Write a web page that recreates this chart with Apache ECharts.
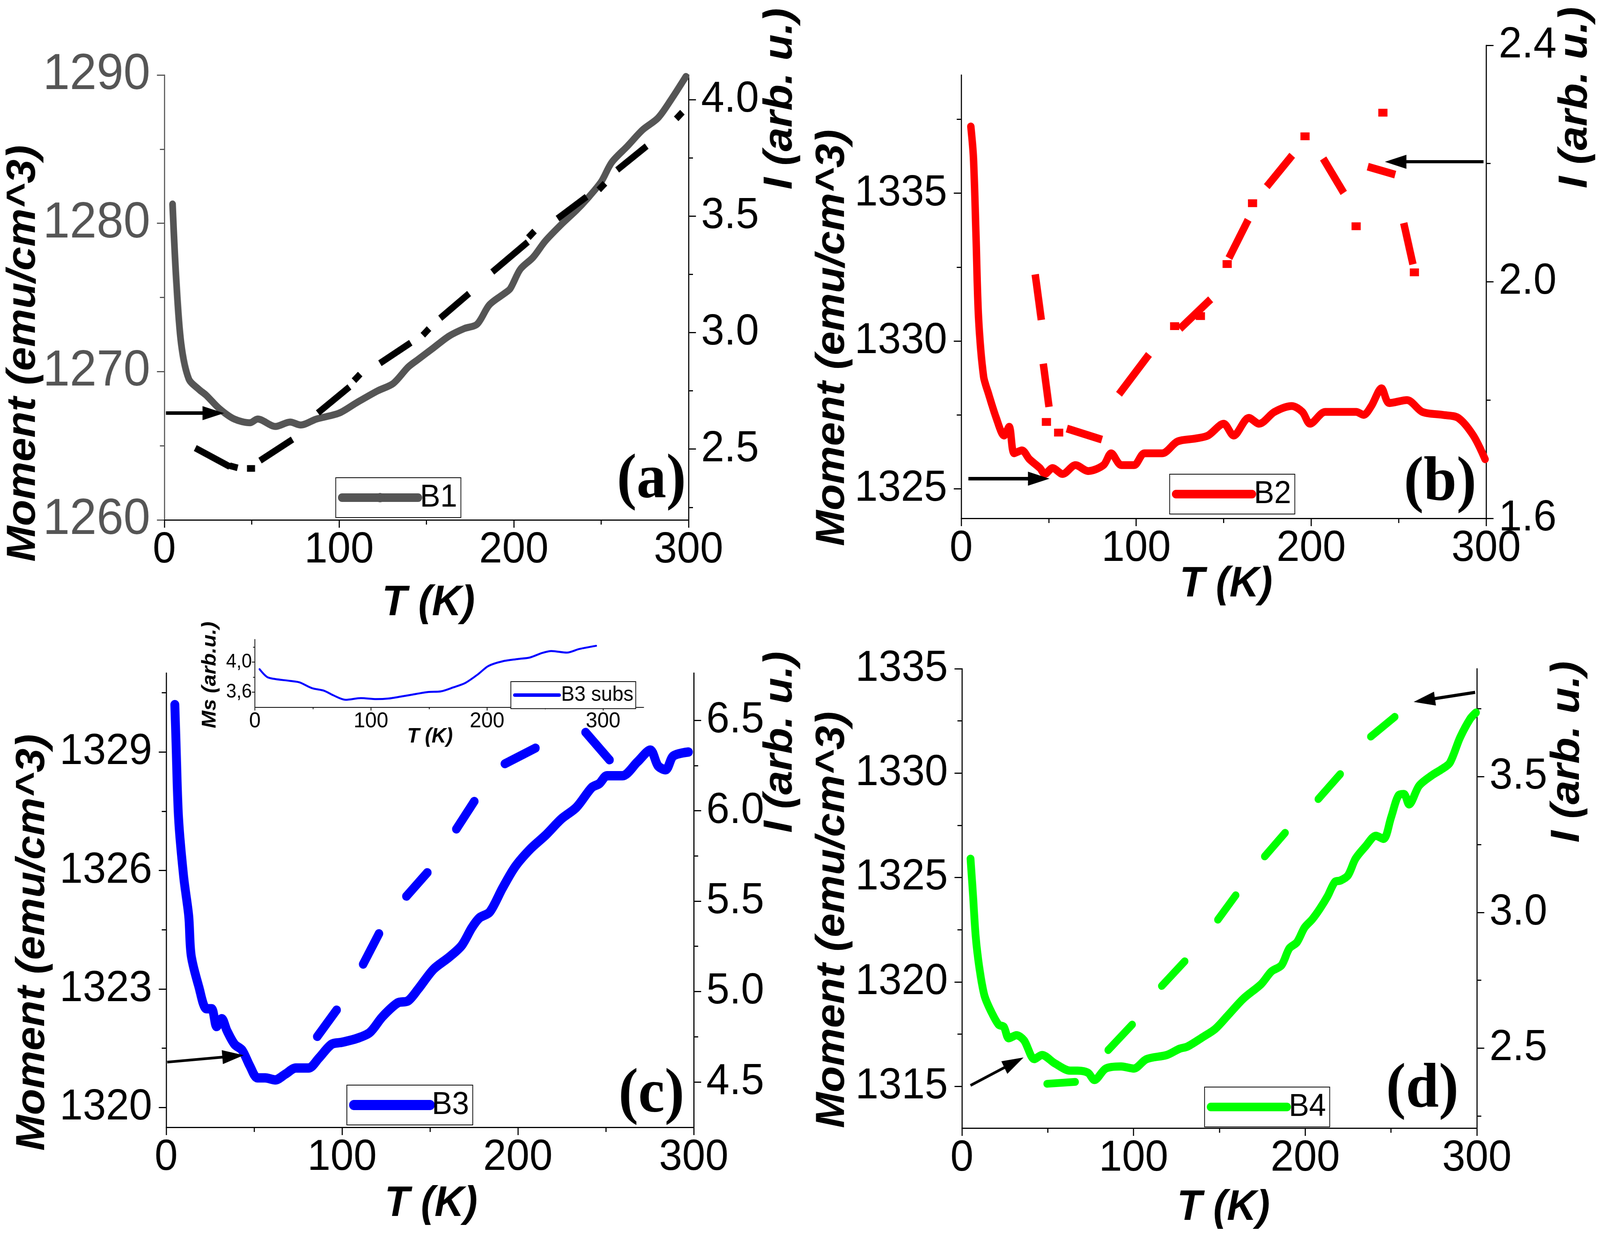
<!DOCTYPE html>
<html>
<head>
<meta charset="utf-8">
<script src="https://cdn.jsdelivr.net/npm/echarts@6/dist/echarts.min.js"></script>
<style>
html, body { margin: 0; padding: 0; background: #fff; overflow: hidden; }
#chart { width: 4313px; height: 3172px; transform-origin: 0 0; }
</style>
</head>
<body>
<div id="chart"></div>
<script>
// ---- data ----
// (a) B1
const tA = [4.7,6.7,9.6,14,19.8,24,31.5,40,49,53.4,63.6,72,78,87,100,110,122,131,139.5,145,154,163,171.6,179,186,195,198,203.7,211,218,227,236,241.6,250,256,265,273.7,282.5,289.8,298.5];
const mA = [1281.3,1276.4,1271.9,1269.5,1268.8,1268.4,1267.5,1266.8,1266.55,1266.8,1266.3,1266.6,1266.4,1266.8,1267.2,1267.9,1268.7,1269.2,1270.3,1270.8,1271.6,1272.4,1272.9,1273.2,1274.5,1275.3,1275.6,1276.9,1277.7,1278.8,1279.9,1280.9,1281.6,1282.8,1284.1,1285.2,1286.3,1287.1,1288.3,1289.9];
// intensity, only the visible dash pieces (null = gap)
const tAi = [19.3,35.9,null,39.2,40.2,null,49.1,50.1,null,56.3,71.8,null,89.3,104.5,null,109.8,110.8,null,124.9,139.5,null,149.2,150.2,null,159.3,173,null,189.1,206.6,null,209.6,210.6,null,226.5,240.2,null,249.9,250.9,null,260.6,274.6,null,294.2,295.2];
const iA  = [2.498,2.431,null,2.425,2.423,null,2.417,2.417,null,2.458,2.534,null,2.664,2.758,null,2.804,2.812,null,2.876,2.949,null,2.999,3.007,null,3.071,3.159,null,3.269,3.380,null,3.418,3.426,null,3.498,3.575,null,3.623,3.631,null,3.707,3.792,null,3.928,3.936];

// (b) B2
const tB = [5.5,7,8.5,9.9,12.8,15.7,20,24.5,27.4,30.3,34.7,39,45,47.8,52.2,58,65.3,72.6,81.3,85.7,91.5,98.8,104.7,114.9,123.6,133.9,141,150,155.7,164.4,170.3,179,189,195,199.4,208,217,225.7,230,234.4,240.2,244.6,254.8,263.6,275.2,284,292.7,299.4];
const mB = [1337.26,1336.2,1333.5,1330.8,1328.8,1328.2,1327.4,1326.8,1327.1,1326.2,1326.3,1326.0,1325.7,1325.5,1325.7,1325.5,1325.8,1325.6,1325.8,1326.2,1325.8,1325.8,1326.2,1326.2,1326.6,1326.7,1326.8,1327.2,1326.8,1327.4,1327.2,1327.6,1327.8,1327.6,1327.2,1327.6,1327.6,1327.6,1327.5,1327.8,1328.4,1327.9,1328.0,1327.6,1327.5,1327.4,1326.8,1326.0];
const tBi = [42.6,45.5,null,47.2,49.9,null,48.2,49.2,null,55.2,56.2,null,62.4,78.4,null,91.5,106,null,121.5,122.5,null,126.5,141,null,136.2,137.2,null,151.5,152.5,null,154,163,null,166,167,null,176,187.8,null,196,197,null,208,217.5,null,225.2,226.2,null,240.5,241.5,null,234.4,246,null,253.4,257.7,null,258.5,259.5];
const iB  = [2.006,1.942,null,1.855,1.795,null,1.763,1.763,null,1.745,1.745,null,1.750,1.735,null,1.815,1.872,null,1.925,1.925,null,1.925,1.966,null,1.942,1.942,null,2.030,2.030,null,2.046,2.099,null,2.133,2.133,null,2.166,2.209,null,2.246,2.246,null,2.203,2.156,null,2.094,2.094,null,2.286,2.286,null,2.193,2.183,null,2.093,2.036,null,2.016,2.016];

// (c) B3
const tC = [4.9,5.5,7,9.9,12.8,14.2,18.6,22.9,25.8,28.7,31.6,34.5,38.9,43.2,47.6,51.9,56.3,62,67.9,73.7,81,86.8,94,99.8,108.5,115.8,123,131.7,137.5,143.3,152,160.7,168,173.8,178.1,184,191.2,198.5,207.2,215.9,224.6,233.3,242,246.3,250.7,259.4,268,275.3,279.7,284,288.4,297];
const mC = [1330.2,1329.35,1327.35,1325.85,1324.85,1323.85,1323.05,1322.5,1322.5,1322.05,1322.25,1321.95,1321.6,1321.45,1321.05,1320.75,1320.75,1320.7,1320.85,1321.0,1321.0,1321.25,1321.6,1321.65,1321.75,1321.9,1322.3,1322.65,1322.7,1323.0,1323.5,1323.8,1324.1,1324.55,1324.8,1324.95,1325.55,1326.1,1326.55,1326.9,1327.3,1327.6,1328.1,1328.2,1328.4,1328.4,1328.75,1329.05,1328.65,1328.55,1328.9,1329.0];
const tCi = [85.9,96.9,null,112,121,null,136.6,148.5,null,165,175.2,null,192.6,210,null,238.5,252.1];
const iC  = [4.751,4.898,null,5.151,5.320,null,5.527,5.658,null,5.899,6.052,null,6.260,6.347,null,6.434,6.281];
// (c) inset, B3 subs
const tIn  = [4,10.6,17.2,30.4,38.4,49,59.6,67.5,78.1,91.3,104.6,115.2,125.8,139,149.6,160.2,170.8,181.4,192,201.2,213.1,226.4,237,247.5,255.5,268.7,279.3,293.9];
const msIn = [3.905,3.80,3.775,3.749,3.73,3.654,3.619,3.558,3.498,3.52,3.507,3.515,3.541,3.576,3.602,3.61,3.662,3.723,3.835,3.948,4.009,4.04,4.061,4.121,4.147,4.126,4.173,4.216];

// (d) B4
const tD = [5,6.5,8,10.1,13.1,16.9,21.4,24.4,27.3,31.8,36.2,42.2,46.6,54.1,63,67.4,73.4,77.2,83.8,92.7,100.1,107.5,119.4,126.8,131.3,140.2,147.6,155,164,174.4,180.3,186.2,190.7,195.2,199.6,204.1,208.5,213,217.4,220.4,224.9,229.3,235.2,241.2,245.6,250.1,254.5,257.5,260.5,266.4,273.9,279.8,284.3,290.2,296.1,299.5];
const mD = [1325.9,1324.1,1322.2,1320.7,1319.35,1318.6,1317.95,1317.85,1317.3,1317.45,1317.2,1316.3,1316.5,1316.1,1315.75,1315.75,1315.65,1315.3,1315.85,1315.95,1315.85,1316.3,1316.5,1316.8,1316.9,1317.35,1317.75,1318.4,1319.2,1319.9,1320.5,1320.8,1321.6,1321.9,1322.6,1323.0,1323.5,1324.1,1324.8,1324.85,1325.1,1325.9,1326.5,1327.0,1326.85,1327.9,1328.95,1329.0,1328.5,1329.4,1329.9,1330.2,1330.5,1331.7,1332.6,1332.9];
const tDi = [49.6,66,null,85.2,99.2,null,116.4,129.8,null,149.1,159.5,null,176.4,188.3,null,207.6,220.4,null,238.2,252.2];
const iD  = [2.369,2.376,null,2.493,2.587,null,2.729,2.820,null,2.973,3.063,null,3.206,3.293,null,3.417,3.509,null,3.647,3.720];

// arrows: [from, to] in (T, value) of the axis they point at
const arrowsMomA = [[[0.9,1267.2],[28,1267.2]]];
const arrowsIntA = [[[301.5,2.554],[95.7,2.461]]];
const arrowsMomB = [[[4.1,1325.34],[44.3,1325.34]]];
const arrowsIntB = [[[298.5,2.203],[248.3,2.203]]];
const arrowsMomC = [[[0.6,1321.15],[38,1321.3]]];
const arrowsIntC = [[[302.9,6.434],[255,6.402]]];
const arrowsMomD = [[[5,1315.04],[30.3,1316.14]]];
const arrowsIntD = [[[299,3.810],[269.4,3.781]]];

// tick values
const tTicks = [0,100,200,300];
const tMinor = [50,150,250];

// ---- chart ----
const FONT = 'Liberation Sans, Arial, sans-serif';
const grids = [], xAxes = [], yAxes = [], series = [];

function pts(t, v) {
  return t.map((x, i) => x === null ? ['-', '-'] : [x, v[i]]);
}

function addGrid(box) {
  grids.push({ left: box[0], top: box[1], width: box[2], height: box[3] });
  return grids.length - 1;
}

// adds a major axis (line, ticks, labels) plus a twin carrying short minor ticks
function addAxis(list, gi, position, o) {
  const col = o.color || '#000';
  const lw = o.lw || 3;
  const tick = o.tick || 20;
  const base = { type: 'value', gridIndex: gi, position: position, min: o.range[0], max: o.range[1], splitLine: { show: false } };
  list.push(Object.assign({}, base, {
    axisLine: { show: true, onZero: false, lineStyle: { color: col, width: lw } },
    axisTick: { show: true, inside: false, length: tick, customValues: o.major, lineStyle: { color: col, width: lw } },
    axisLabel: { show: true, customValues: o.major, formatter: o.fmt, margin: o.margin, color: col, fontSize: o.fs, fontFamily: FONT }
  }));
  const idx = list.length - 1;
  list.push(Object.assign({}, base, {
    axisLine: { show: false, onZero: false },
    axisTick: { show: true, inside: false, length: tick * 0.6, customValues: o.minor, lineStyle: { color: col, width: lw } },
    axisLabel: { show: false }
  }));
  return idx;
}

function hiddenX(gi, range) {
  xAxes.push({ type: 'value', gridIndex: gi, min: range[0], max: range[1], show: false });
  return xAxes.length - 1;
}

function arrowLine(list, width) {
  return {
    silent: true, animation: false, symbol: ['none', 'triangle'], symbolSize: [36, 58], precision: 4,
    lineStyle: { color: '#000', width: width, type: 'solid' }, itemStyle: { color: '#000' },
    label: { show: false }, emphasis: { disabled: true },
    data: list.map(a => [{ coord: a[0] }, { coord: a[1] }])
  };
}

function line(name, xi, yi, data, color, width, cap, smooth, marks, markW) {
  const s = {
    type: 'line', name: name, xAxisIndex: xi, yAxisIndex: yi, data: data,
    symbol: 'none', showSymbol: false, connectNulls: false, clip: false, silent: true, animation: false,
    smooth: smooth,
    lineStyle: { color: color, width: width, cap: cap, join: 'round' }, itemStyle: { color: color }
  };
  if (marks) s.markLine = arrowLine(marks, markW);
  return s;
}

const int1 = v => String(Math.round(v));
const dec1 = v => v.toFixed(1);

const panels = [
  { main: [443, 192, 1413, 1139], right: [443, 192, 1413, 1139],
    left: { range: [1260, 1290], major: [1260, 1270, 1280, 1290], minor: [1265, 1275, 1285], color: '#555555', fs: 130 },
    rgt: { range: [2.196, 4.106], major: [2.5, 3, 3.5, 4], minor: [2.25, 2.75, 3.25, 3.75] },
    name: 'B1', color: '#555555', solid: [tA, mA], dash: [tAi, iA], dashColor: '#000', w: 18, dw: 17, cap: 'square',
    arrM: arrowsMomA, arrI: arrowsIntA, awM: 9, awI: 5 },
  { main: [2591, 192, 1415, 1135], right: [2591, 116, 1415, 1211],
    left: { range: [1324, 1339], major: [1325, 1330, 1335], minor: [1327.5, 1332.5, 1337.5] },
    rgt: { range: [1.6, 2.4], major: [1.6, 2.0, 2.4], minor: [1.8, 2.2] },
    name: 'B2', color: '#ff0000', solid: [tB, mB], dash: [tBi, iB], dashColor: '#ff0000', w: 20, dw: 20, cap: 'square',
    arrM: arrowsMomB, arrI: arrowsIntB, awM: 9, awI: 8 },
  { main: [448, 1723, 1422, 1163], right: [448, 1723, 1422, 1163],
    left: { range: [1319.5, 1331], major: [1320, 1323, 1326, 1329], minor: [1321.5, 1324.5, 1327.5, 1330.5] },
    rgt: { range: [4.249, 6.762], major: [4.5, 5, 5.5, 6, 6.5], minor: [4.75, 5.25, 5.75, 6.25] },
    name: 'B3', color: '#0000ff', solid: [tC, mC], dash: [tCi, iC], dashColor: '#0000ff', w: 24, dw: 23, cap: 'round',
    arrM: arrowsMomC, arrI: arrowsIntC, awM: 7, awI: 8 },
  { main: [2593, 1712, 1388, 1176], right: [2593, 1712, 1388, 1176],
    left: { range: [1313, 1335], major: [1315, 1320, 1325, 1330, 1335], minor: [1317.5, 1322.5, 1327.5, 1332.5] },
    rgt: { range: [2.206, 3.897], major: [2.5, 3.0, 3.5], minor: [2.25, 2.75, 3.25, 3.75] },
    name: 'B4', color: '#00ff00', solid: [tD, mD], dash: [tDi, iD], dashColor: '#00ff00', w: 21, dw: 20, cap: 'round',
    arrM: arrowsMomD, arrI: arrowsIntD, awM: 7, awI: 8 }
];

panels.forEach(p => {
  const g1 = addGrid(p.main);
  const g2 = addGrid(p.right);
  const x1 = addAxis(xAxes, g1, 'bottom', { range: [0, 300], major: tTicks, minor: tMinor, fmt: int1, fs: 112, margin: 22, tick: 20 });
  const x2 = hiddenX(g2, [0, 300]);
  const yl = addAxis(yAxes, g1, 'left', Object.assign({ fmt: int1, fs: 112, margin: 38, tick: 20 }, p.left));
  const yr = addAxis(yAxes, g2, 'right', Object.assign({ fmt: dec1, fs: 112, margin: 34, tick: 20 }, p.rgt));
  series.push(line(p.name, x1, yl, pts(p.solid[0], p.solid[1]), p.color, p.w, 'round', 0.3, p.arrM, p.awM));
  series.push(line(p.name + ' I', x2, yr, pts(p.dash[0], p.dash[1]), p.dashColor, p.dw, p.cap, false, p.arrI, p.awI));
});

// inset of (c)
const gIn = addGrid([687, 1637, 1048, 174]);
const xIn = addAxis(xAxes, gIn, 'bottom', { range: [0, 334.9], major: tTicks, minor: tMinor, fmt: int1, fs: 56, margin: 8, tick: 8, lw: 2 });
const yIn = addAxis(yAxes, gIn, 'left', { range: [3.397, 4.301], major: [3.6, 4.0], minor: [3.8, 4.2], fmt: v => v.toFixed(1).replace('.', ','), fs: 50, margin: 8, tick: 8, lw: 2 });
series.push(line('B3 subs', xIn, yIn, pts(tIn, msIn), '#0000ff', 5, 'round', 0.3));

// itemHeight drives the size of the legend marker dot; at <= line width it is hidden in the line
function legendAt(name, left, top, fs, iw, lw, ih, pad) {
  return {
    data: [name], left: left, top: top, orient: 'horizontal', selectedMode: false,
    itemWidth: iw, itemHeight: ih, itemGap: 0, padding: pad,
    borderColor: '#000', borderWidth: 2, backgroundColor: '#fff',
    lineStyle: { width: lw, cap: 'round' },
    textStyle: { fontSize: fs, fontFamily: FONT, color: '#000', lineHeight: fs * 1.17 }
  };
}

const titleFont = { fontFamily: FONT, fontWeight: 'bold', fontStyle: 'italic', fill: '#000' };
function txt(s, x, y, size, rot, extra) {
  return {
    type: 'text', x: x, y: y, rotation: rot ? Math.PI / 2 : 0, silent: true,
    style: Object.assign({ text: s, fontSize: size, align: 'center', verticalAlign: 'middle' }, titleFont, extra || {})
  };
}
const letterFont = { fontFamily: 'Liberation Serif, Times New Roman, serif', fontWeight: 'bold', fontStyle: 'normal' };

const option = {
  backgroundColor: '#ffffff',
  animation: false,
  grid: grids,
  xAxis: xAxes,
  yAxis: yAxes,
  series: series,
  legend: [
    legendAt('B1', 905, 1223, 82, 205, 22, 30, [3, 10, 3, 6]),
    legendAt('B2', 3153, 1214, 82, 205, 22, 22, [3, 10, 3, 6]),
    legendAt('B3', 935, 2778, 82, 205, 26, 26, [3, 10, 3, 6]),
    legendAt('B4', 3247, 2783, 82, 205, 22, 22, [3, 10, 3, 6]),
    legendAt('B3 subs', 1377, 1745, 54, 120, 9, 9, [3, 6, 3, 6])
  ],
  graphic: { elements: [
    txt('Moment (emu/cm^3)', 64, 905, 110, true),
    txt('I (arb. u.)', 2104, 253, 110, true),
    txt('T (K)', 1155, 1545, 110, false),
    txt('Moment (emu/cm^3)', 2245, 865, 110, true),
    txt('I (arb. u.)', 4247, 250, 110, true),
    txt('T (K)', 3305, 1497, 110, false),
    txt('Moment (emu/cm^3)', 89, 2413, 110, true),
    txt('I (arb. u.)', 2104, 1900, 110, true),
    txt('T (K)', 1162, 3083, 110, false),
    txt('Moment (emu/cm^3)', 2245, 2355, 110, true),
    txt('I (arb. u.)', 4226, 1925, 110, true),
    txt('T (K)', 3298, 3093, 110, false),
    txt('Ms (arb.u.)', 566, 1728, 54, true),
    txt('T (K)', 1159, 1886, 54, false),
    txt('(a)', 1756, 1232, 160, false, letterFont),
    txt('(b)', 3882, 1239, 160, false, letterFont),
    txt('(c)', 1756, 2805, 160, false, letterFont),
    txt('(d)', 3834, 2792, 160, false, letterFont)
  ] }
};

// the browser window is capped narrower than 4313 px; stretch the 4313x3172 drawing onto it
const el = document.getElementById('chart');
const fx = window.innerWidth / 4313;
const fy = window.innerHeight / 3172;
if (fx > 0 && fy > 0 && (Math.abs(fx - 1) > 0.001 || Math.abs(fy - 1) > 0.001)) {
  el.style.transform = 'scale(' + fx + ',' + fy + ')';
}

const chart = echarts.init(el);
chart.setOption(option);
</script>
</body>
</html>
